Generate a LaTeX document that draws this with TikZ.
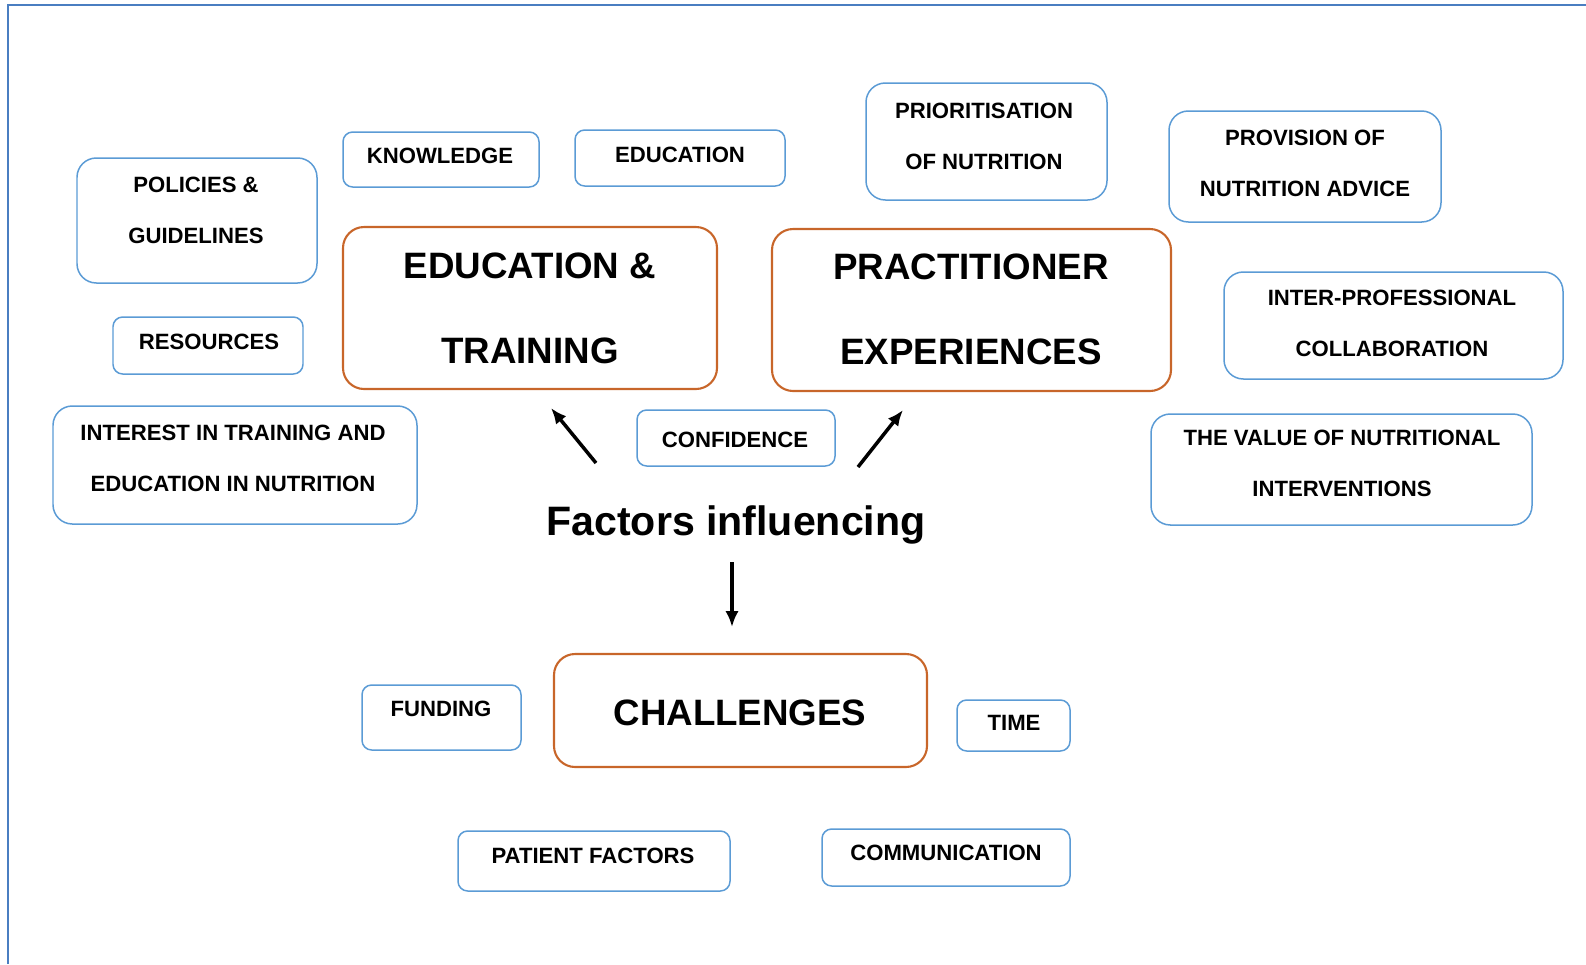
\documentclass[tikz,border=0pt]{standalone}
\usepackage{fontspec}
\setmainfont{Liberation Sans}
\usepackage{xcolor}
\usetikzlibrary{arrows.meta}

\definecolor{framecol}{RGB}{74,126,193}
\definecolor{boxblue}{RGB}{91,155,213}
\definecolor{boxorange}{RGB}{200,102,42}

\begin{document}
\begin{tikzpicture}[x=0.02cm, y=-0.02cm,
    tagbox/.style={draw=boxblue, line width=0.85pt, rounded corners=5.5pt},
    tallbox/.style={draw=boxblue, line width=0.85pt, rounded corners=11pt},
    themebox/.style={draw=boxorange, line width=1.2pt, rounded corners=12pt},
    tagtext/.style={font=\bfseries\fontsize{12.6}{29}\selectfont, align=center, inner sep=0pt},
    themetext/.style={font=\bfseries\fontsize{20.9}{48.4}\selectfont, align=center, inner sep=0pt},
    pointer/.style={-{Latex[length=9pt, width=7.5pt]}, line width=2pt}]
      \useasboundingbox (0,0) rectangle (1586,964);

      % Frame
      \draw[framecol, line width=1.3pt] (8,964) -- (8,5) -- (1586,5);

      % Education & training
      \draw[themebox] (343,227) rectangle (717,389);
      \node[themetext] (edtrain) at (530,308) {EDUCATION \&\\TRAINING};

      \draw[tallbox] (77,158) rectangle (317,283);
      \node[tagtext] (policies) at (196,210) {POLICIES \&\\GUIDELINES};

      \draw[tagbox] (343,132) rectangle (539,187);
      \node[tagtext, anchor=base] (knowledge) at (440,163) {KNOWLEDGE};

      \draw[tagbox] (575,130) rectangle (785,186);
      \node[tagtext, anchor=base] (education) at (680,162) {EDUCATION};

      \draw[tagbox] (113,317) rectangle (303,374);
      \node[tagtext, anchor=base] (resources) at (209,349) {RESOURCES};

      \draw[tallbox] (53,406) rectangle (417,524);
      \node[tagtext] (interest) at (233,458) {INTEREST IN TRAINING AND\\EDUCATION IN NUTRITION};

      % Practitioner experiences
      \draw[themebox] (772,229) rectangle (1171,391);
      \node[themetext] (practice) at (971,309) {PRACTITIONER\\EXPERIENCES};

      \draw[tallbox] (866,83) rectangle (1107,200);
      \node[tagtext] (priority) at (984,136) {PRIORITISATION\\OF NUTRITION};

      \draw[tallbox] (1169,111) rectangle (1441,222);
      \node[tagtext] (advice) at (1305,163) {PROVISION OF\\NUTRITION ADVICE};

      \draw[tallbox] (1224,272) rectangle (1563,379);
      \node[tagtext] (collab) at (1392,323) {INTER-PROFESSIONAL\\COLLABORATION};

      \draw[tallbox] (1151,414) rectangle (1532,525);
      \node[tagtext] (value) at (1342,463) {THE VALUE OF NUTRITIONAL\\INTERVENTIONS};

      % Shared factor
      \draw[tagbox] (637,410) rectangle (835,466);
      \node[tagtext, anchor=base] (confidence) at (735,447) {CONFIDENCE};

      % Centre heading and arrows
      \node[font=\bfseries\fontsize{23.4}{28}\selectfont, anchor=base, inner sep=0pt] (factors) at (736,535) {Factors influencing};

      \coordinate (leftfrom) at (596,463);
      \coordinate (leftto) at (551,408);
      \coordinate (rightfrom) at (858,467);
      \coordinate (rightto) at (903,410);
      \coordinate (downfrom) at (732,562);
      \coordinate (downto) at (732,627);
      \draw[pointer] (leftfrom) -- (leftto);
      \draw[pointer] (rightfrom) -- (rightto);
      \draw[pointer] (downfrom) -- (downto);

      % Challenges
      \draw[themebox] (554,654) rectangle (927,767);
      \node[themetext, anchor=base] (challenges) at (740,725) {CHALLENGES};

      \draw[tagbox] (362,685) rectangle (521,750);
      \node[tagtext, anchor=base] (funding) at (441,716) {FUNDING};

      \draw[tagbox] (957,700) rectangle (1070,751);
      \node[tagtext, anchor=base] (time) at (1014,730) {TIME};

      \draw[tagbox] (458,831) rectangle (730,891);
      \node[tagtext, anchor=base] (patient) at (593,863) {PATIENT FACTORS};

      \draw[tagbox] (822,829) rectangle (1070,886);
      \node[tagtext, anchor=base] (comms) at (946,860) {COMMUNICATION};
    \end{tikzpicture}
\end{document}
